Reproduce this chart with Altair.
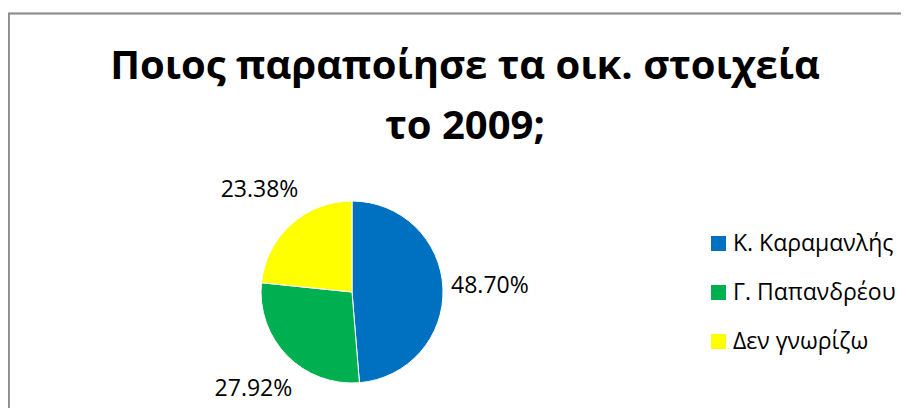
import altair as alt
import pandas as pd

names = ["Κ. Καραμανλής", "Γ. Παπανδρέου", "Δεν γνωρίζω"]
values = [48.70, 27.92, 23.38]
colors = ["#0070C0", "#00B050", "#FFFF00"]
title_lines = ["Ποιος παραποίησε τα οικ. στοιχεία", "το 2009;"]

df = pd.DataFrame({"name": names, "value": values, "order": list(range(len(names)))})

FONT = "Open Sans"
CX, CY, R = 344, 124, 91

base = alt.Chart(df).encode(
    theta=alt.Theta("value:Q", stack=True),
    order=alt.Order("order:Q"),
)

pie = base.mark_arc(stroke="white", strokeWidth=1, radius=R).encode(
    x=alt.value(CX),
    y=alt.value(CY),
    color=alt.Color(
        "name:N",
        scale=alt.Scale(domain=names, range=colors),
        legend=alt.Legend(
            title=None,
            orient="none",
            legendX=699,
            legendY=64,
            symbolType="square",
            symbolSize=225,
            symbolStrokeWidth=0,
            labelFont=FONT,
            labelFontSize=23,
            labelColor="#000000",
            labelLimit=300,
            rowPadding=25,
            labelOffset=3,
        ),
    ),
)

labels = base.transform_calculate(
    label="format(datum.value, '.2f') + '%'"
).mark_text(radius=138, font=FONT, fontSize=23, color="#000000").encode(
    x=alt.value(CX),
    y=alt.value(CY),
    text="label:N",
)

title_df = pd.DataFrame({"line": title_lines})
title1 = alt.Chart(title_df).transform_filter("datum.line == '%s'" % title_lines[0]).mark_text(
    font=FONT, fontSize=40, fontWeight="bold", color="#000000", baseline="alphabetic", align="center"
).encode(x=alt.value(457), y=alt.value(-89), text="line:N")
title2 = alt.Chart(title_df).transform_filter("datum.line == '%s'" % title_lines[1]).mark_text(
    font=FONT, fontSize=40, fontWeight="bold", color="#000000", baseline="alphabetic", align="center"
).encode(x=alt.value(457), y=alt.value(-29), text="line:N")

border_top = alt.Chart(df).mark_rule(color="#8c8c8c", strokeWidth=1.5).encode(
    x=alt.value(0), x2=alt.value(893), y=alt.value(-154.5)
)
border_left = alt.Chart(df).mark_rule(color="#8c8c8c", strokeWidth=1.5).encode(
    x=alt.value(0.75), y=alt.value(-155), y2=alt.value(240)
)

chart = alt.layer(border_top, border_left, title1, title2, pie, labels).properties(
    width=893,
    height=240,
    padding={"left": 0, "top": 160, "right": 0, "bottom": 0},
    autosize=alt.AutoSizeParams(type="none"),
).configure_view(stroke=None)

chart.save("out.html", embed_options={"renderer": "svg", "actions": False})
